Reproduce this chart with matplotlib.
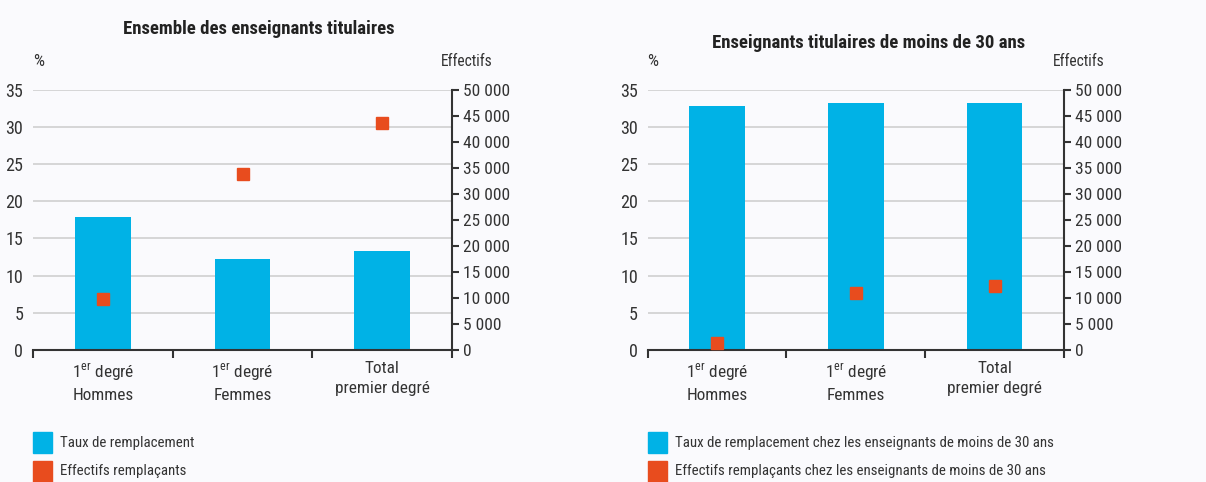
import numpy as np
import matplotlib
matplotlib.use('Agg')
import matplotlib.pyplot as plt
from matplotlib.patches import Rectangle

FONTS = ['Roboto Condensed', 'IBM Plex Sans Condensed', 'DejaVu Sans']
plt.rcParams['font.family'] = FONTS
plt.rcParams['mathtext.fontset'] = 'custom'
plt.rcParams['mathtext.rm'] = 'Roboto Condensed'

# Data
categories = ['1$^{\\mathrm{er}}$ degré\nHommes', '1$^{\\mathrm{er}}$ degré\nFemmes', 'Total\npremier degré']
taux_all = [17.9, 12.2, 13.3]
effectifs_all = [9700, 33800, 43500]
taux_young = [32.8, 33.2, 33.2]
effectifs_young = [1300, 10900, 12300]

titles = ['Ensemble des enseignants titulaires', 'Enseignants titulaires de moins de 30 ans']
legend_bar = ['Taux de remplacement', 'Taux de remplacement chez les enseignants de moins de 30 ans']
legend_pt = ['Effectifs remplaçants', 'Effectifs remplaçants chez les enseignants de moins de 30 ans']

pct_ticks = [0, 5, 10, 15, 20, 25, 30, 35]
eff_ticks = list(range(0, 50001, 5000))

BLUE = '#00b2e6'
ORANGE = '#e84c1e'
TXT = '#333333'
BG = '#fafafd'

fig = plt.figure(figsize=(12.06, 4.82), dpi=100, facecolor=BG)

panels = [
    dict(rect=[0.0274, 0.274, 0.3474, 0.540], taux=taux_all, eff=effectifs_all, title_x=259, title_y=28),
    dict(rect=[0.537, 0.274, 0.3453, 0.540], taux=taux_young, eff=effectifs_young, title_x=869, title_y=42),
]

W, H = 1206, 482

for i, p in enumerate(panels):
    ax = fig.add_axes(p['rect'])
    ax.set_facecolor(BG)
    x = np.arange(len(categories))
    ax.bar(x, p['taux'], width=0.40, color=BLUE, zorder=3)
    ax.set_xlim(-0.5, 2.5)
    ax.set_ylim(0, 35)
    ax.set_yticks(pct_ticks)
    ax.set_yticklabels([str(t) for t in pct_ticks])
    ax.grid(axis='y', color='#d6d6d6', linewidth=1.4, zorder=0)
    for s in ['top', 'left', 'right']:
        ax.spines[s].set_visible(False)
    ax.spines['bottom'].set_color(TXT)
    ax.spines['bottom'].set_linewidth(1.5)
    ax.spines['bottom'].set_zorder(5)
    ax.tick_params(axis='y', length=0, pad=7, labelsize=13, labelcolor=TXT)
    # category boundaries ticks
    ax.set_xticks([-0.5, 0.5, 1.5, 2.5])
    ax.set_xticklabels([])
    ax.tick_params(axis='x', direction='out', length=6, width=1.5, color=TXT)
    for xi, lab in zip(x, categories):
        ax.text(xi, -1.5, lab, ha='center', va='top', fontsize=12.4, color=TXT,
                linespacing=1.4, transform=ax.transData)

    ax2 = ax.twinx()
    ax2.set_ylim(0, 50000)
    ax2.set_yticks(eff_ticks)
    ax2.set_yticklabels([f'{t:,}'.replace(',', ' ') for t in eff_ticks])
    ax2.plot(x, p['eff'], linestyle='none', marker='s', markersize=8.6,
             color=ORANGE, zorder=6)
    for s in ['top', 'left', 'bottom']:
        ax2.spines[s].set_visible(False)
    ax2.spines['right'].set_color(TXT)
    ax2.spines['right'].set_linewidth(1.5)
    ax2.tick_params(axis='y', direction='out', length=5, width=1.5, color=TXT,
                    pad=3, labelsize=12.5, labelcolor=TXT)

    # titles and axis captions
    fig.text(p['title_x'] / W, 1 - (p['title_y'] + 1) / H, titles[i], ha='center', va='center',
             fontsize=13.5, fontweight='bold', color='#222222')
    left_px = p['rect'][0] * W
    right_px = (p['rect'][0] + p['rect'][2]) * W
    fig.text(left_px / W, 1 - 62 / H, '%', ha='left', va='center', fontsize=12.5, color=TXT)
    fig.text((right_px + 15) / W, 1 - 62 / H, 'Effectifs', ha='center', va='center',
             fontsize=11.2, color=TXT)

    # legend
    fig.patches.append(Rectangle((left_px / W, 1 - 453 / H), 19 / W, 21 / H,
                                 transform=fig.transFigure, color=BLUE))
    fig.patches.append(Rectangle((left_px / W, 1 - 482 / H), 19 / W, 21 / H,
                                 transform=fig.transFigure, color=ORANGE))
    fig.text((left_px + 27) / W, 1 - 443 / H, legend_bar[i], ha='left', va='center',
             fontsize=10.7, color=TXT)
    fig.text((left_px + 27) / W, 1 - 471 / H, legend_pt[i], ha='left', va='center',
             fontsize=10.7, color=TXT)

fig.savefig('out.png', dpi=100, facecolor=BG)
